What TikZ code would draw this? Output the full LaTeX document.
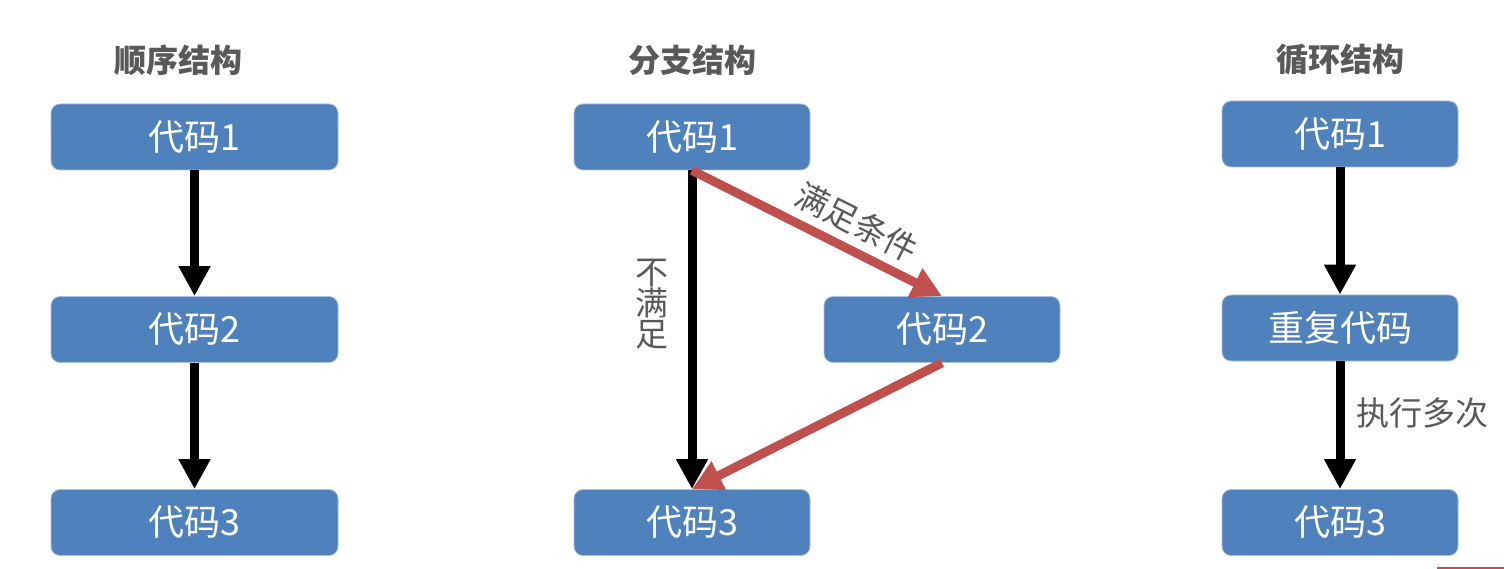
\documentclass[tikz,border=0pt]{standalone}
\usepackage{fontspec}
\setmainfont{Noto Sans CJK SC}
\usetikzlibrary{arrows.meta}
\definecolor{boxblue}{HTML}{4F81BD}
\definecolor{boxedge}{HTML}{A9C1E0}
\definecolor{flowred}{HTML}{C0504D}
\definecolor{txtgray}{HTML}{595959}
\tikzset{
  codebox/.style={draw=boxedge, line width=0.8pt, fill=boxblue, rounded corners=9pt,
    minimum width=#1, minimum height=66pt, inner sep=0pt, text=white,
    font=\fontsize{36}{36}\selectfont},
  codebox/.default=287pt,
  title/.style={text=txtgray, font=\fontsize{32}{32}\selectfont\bfseries},
  note/.style={text=txtgray, font=\fontsize{33}{33}\selectfont},
  flow/.style={line width=9pt, -{Triangle[length=30pt,width=30pt]}},
  blackflow/.style={flow, draw=black},
  redflow/.style={flow, draw=flowred},
}
\begin{document}
\begin{tikzpicture}[x=1pt,y=-1pt]
\useasboundingbox (0,0) rectangle (1504,569);

% sequence structure
\node[title] (t1) at (178,60) {顺序结构};
\node[codebox] (s1) at (194.5,137) {代码1};
\node[codebox] (s2) at (194.5,329.5) {代码2};
\node[codebox] (s3) at (194.5,522.5) {代码3};
\draw[blackflow] (s1.south) -- (s2.north);
\draw[blackflow] (s2.south) -- (s3.north);

% branch structure
\node[title] (t2) at (692,60) {分支结构};
\node[codebox=236pt] (b1) at (692,137) {代码1};
\node[codebox=236pt] (b2) at (942,329.5) {代码2};
\node[codebox=236pt] (b3) at (692,522.5) {代码3};
\draw[blackflow] (b1.south) -- (b3.north);
\node[note, align=center, inner sep=0pt] (no) at (652,304)
  {不\\[-2pt]满\\[-2pt]足};
\draw[redflow] (b1.south) -- (b2.north)
  node[note, pos=0.61, sloped, above=5pt] (yes) {满足条件};
\draw[redflow] (b2.south) -- (b3.north);

% loop structure
\node[title] (t3) at (1340,60) {循环结构};
\node[codebox=236pt] (l1) at (1340,134) {代码1};
\node[codebox=236pt] (l2) at (1340,328) {重复代码};
\node[codebox=236pt] (l3) at (1340,522.5) {代码3};
\draw[blackflow] (l1.south) -- (l2.north);
\draw[blackflow] (l2.south) -- (l3.north);
\node[note, anchor=west, inner sep=0pt] (rep) at (1356,413) {执行多次};

% thin red rule at the lower right edge
\coordinate (r0) at (1437,568);
\coordinate (r1) at (1504,568);
\draw[flowred, line width=1.2pt] (r0) -- (r1);
\end{tikzpicture}
\end{document}
